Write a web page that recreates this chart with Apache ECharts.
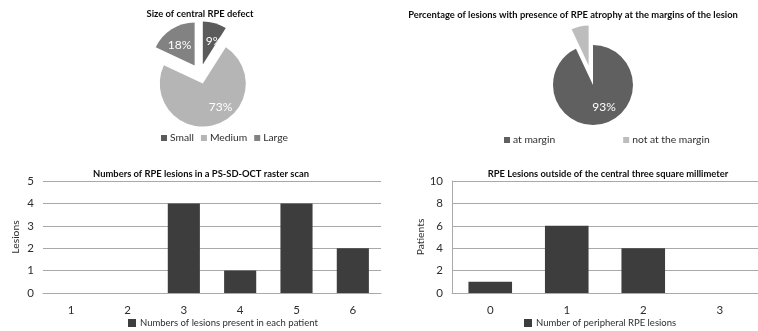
<!DOCTYPE html>
<html>
<head>
<meta charset="utf-8">
<script src="https://cdn.jsdelivr.net/npm/echarts@6/dist/echarts.min.js"></script>
<style>
  html, body { margin: 0; padding: 0; background: #fff; }
  #chart { width: 758px; height: 331px; }
</style>
</head>
<body>
<div id="chart"></div>
<script>
// Size of central RPE defect (percent of eyes)
const defectSizes = ['Small', 'Medium', 'Large'];
const defectShares = [9, 73, 18];

// RPE atrophy at the lesion margins (percent of lesions)
const marginGroups = ['at margin', 'not at the margin'];
const marginShares = [93, 7];

// Lesions per PS-SD-OCT raster scan
const lesionCounts = ['1', '2', '3', '4', '5', '6'];
const lesionPatients = [0, 0, 4, 1, 4, 2];

// Peripheral RPE lesions
const peripheralCounts = ['0', '1', '2', '3'];
const peripheralPatients = [1, 6, 4, 0];

const FONT = 'Lato, "Open Sans", sans-serif';
const TEXT = '#2e2e2e';
const GRID = '#a9a9a9';
const BAR = '#3d3d3d';

const defectColors = ['#5b5b5b', '#b5b5b5', '#828282'];
const marginColors = ['#606060', '#bdbdbd'];

// nudges for the in-slice percentage labels (top/right/bottom/left padding)
const defectLabelPad = [[0, 0, 10, 9], [0, 0, 0, 22], [4, 4, 0, 0]];
const marginLabelPad = [0, 0, 0, 12];

const chart = echarts.init(document.getElementById('chart'), null, { renderer: 'canvas' });

function titleAt(text, cx, top) {
  return {
    text: text,
    left: cx,
    top: top,
    textAlign: 'center',
    padding: 0,
    textStyle: { fontFamily: FONT, fontSize: 9.4, fontWeight: 'bold', color: '#0d0d0d' }
  };
}

const axisLabelStyle = { fontFamily: FONT, fontSize: 11.5, color: TEXT };

const option = {
  animation: false,
  backgroundColor: '#fff',
  title: [
    titleAt('Size of central RPE defect', 200, 9),
    titleAt('Percentage of lesions with presence of RPE atrophy at the margins of the lesion', 573, 10),
    titleAt('Numbers of RPE lesions in a PS-SD-OCT raster scan', 201, 169),
    titleAt('RPE Lesions outside of the central three square millimeter', 608, 169)
  ],
  legend: [
    {
      data: defectSizes,
      left: 161, top: 133,
      icon: 'rect', itemWidth: 6, itemHeight: 6, itemGap: 7,
      padding: 0,
      textStyle: { fontFamily: FONT, fontSize: 10.3, color: TEXT, padding: [0, 0, 0, -2] }
    },
    {
      data: marginGroups,
      left: 504, top: 135,
      icon: 'rect', itemWidth: 6, itemHeight: 6, itemGap: 68,
      padding: 0,
      textStyle: { fontFamily: FONT, fontSize: 10.3, color: TEXT, padding: [0, 0, 0, -2] }
    },
    {
      data: ['Numbers of lesions present in each patient'],
      left: 128, top: 318,
      icon: 'rect', itemWidth: 8, itemHeight: 8,
      padding: 0,
      textStyle: { fontFamily: FONT, fontSize: 9.5, color: TEXT, padding: [0, 0, 0, -1] }
    },
    {
      data: ['Number of peripheral RPE lesions'],
      left: 524, top: 318,
      icon: 'rect', itemWidth: 8, itemHeight: 8,
      padding: 0,
      textStyle: { fontFamily: FONT, fontSize: 9.5, color: TEXT, padding: [0, 0, 0, -1] }
    }
  ],
  grid: [
    { left: 43, top: 181, width: 338, height: 112 },
    { left: 452, top: 181, width: 315, height: 112 }
  ],
  xAxis: [
    {
      gridIndex: 0, type: 'category', data: lesionCounts,
      axisLine: { show: true, lineStyle: { color: GRID, width: 1 } },
      axisTick: { show: false },
      axisLabel: Object.assign({ margin: 11 }, axisLabelStyle)
    },
    {
      gridIndex: 1, type: 'category', data: peripheralCounts,
      axisLine: { show: true, lineStyle: { color: GRID, width: 1 } },
      axisTick: { show: false },
      axisLabel: Object.assign({ margin: 11 }, axisLabelStyle)
    }
  ],
  yAxis: [
    {
      gridIndex: 0, type: 'value', min: 0, max: 5, interval: 1,
      name: 'Lesions', nameLocation: 'middle', nameGap: 22,
      nameTextStyle: { fontFamily: FONT, fontSize: 10.3, color: TEXT },
      axisLine: { show: false }, axisTick: { show: false },
      splitLine: { lineStyle: { color: GRID, width: 1 } },
      axisLabel: Object.assign({ margin: 9 }, axisLabelStyle)
    },
    {
      gridIndex: 1, type: 'value', min: 0, max: 10, interval: 2,
      name: 'Patients', nameLocation: 'middle', nameGap: 23,
      nameTextStyle: { fontFamily: FONT, fontSize: 10.3, color: TEXT },
      axisLine: { show: true, lineStyle: { color: GRID, width: 1 } }, axisTick: { show: false },
      splitLine: { lineStyle: { color: GRID, width: 1 } },
      axisLabel: Object.assign({ margin: 9 }, axisLabelStyle)
    }
  ],
  series: [
    {
      type: 'pie',
      name: 'Size of central RPE defect',
      center: [200, 74], radius: 43,
      startAngle: 90, clockwise: true,
      selectedMode: 'multiple', selectedOffset: 10,
      avoidLabelOverlap: false,
      emphasis: { disabled: true },
      label: {
        show: true, position: 'inside', formatter: '{c}%',
        fontFamily: FONT, fontSize: 12, color: '#fff'
      },
      labelLine: { show: false },
      data: defectSizes.map((n, i) => ({
        name: n, value: defectShares[i], selected: true,
        itemStyle: { color: defectColors[i] },
        label: { padding: defectLabelPad[i] }
      }))
    },
    {
      type: 'pie',
      name: 'RPE atrophy at the margins',
      center: [593, 85], radius: 40,
      startAngle: 90, clockwise: true,
      selectedMode: 'multiple', selectedOffset: 20,
      avoidLabelOverlap: false,
      emphasis: { disabled: true },
      label: {
        show: true, position: 'inside', formatter: '{c}%',
        fontFamily: FONT, fontSize: 12, color: '#fff'
      },
      labelLine: { show: false },
      data: marginGroups.map((n, i) => ({
        name: n, value: marginShares[i], selected: i === 1,
        itemStyle: { color: marginColors[i] },
        label: { show: i === 0, padding: marginLabelPad }
      }))
    },
    {
      type: 'bar',
      name: 'Numbers of lesions present in each patient',
      xAxisIndex: 0, yAxisIndex: 0,
      barWidth: '57%',
      itemStyle: { color: BAR },
      data: lesionPatients
    },
    {
      type: 'bar',
      name: 'Number of peripheral RPE lesions',
      xAxisIndex: 1, yAxisIndex: 1,
      barWidth: '57%',
      itemStyle: { color: BAR },
      data: peripheralPatients
    }
  ]
};

chart.setOption(option);
</script>
</body>
</html>
